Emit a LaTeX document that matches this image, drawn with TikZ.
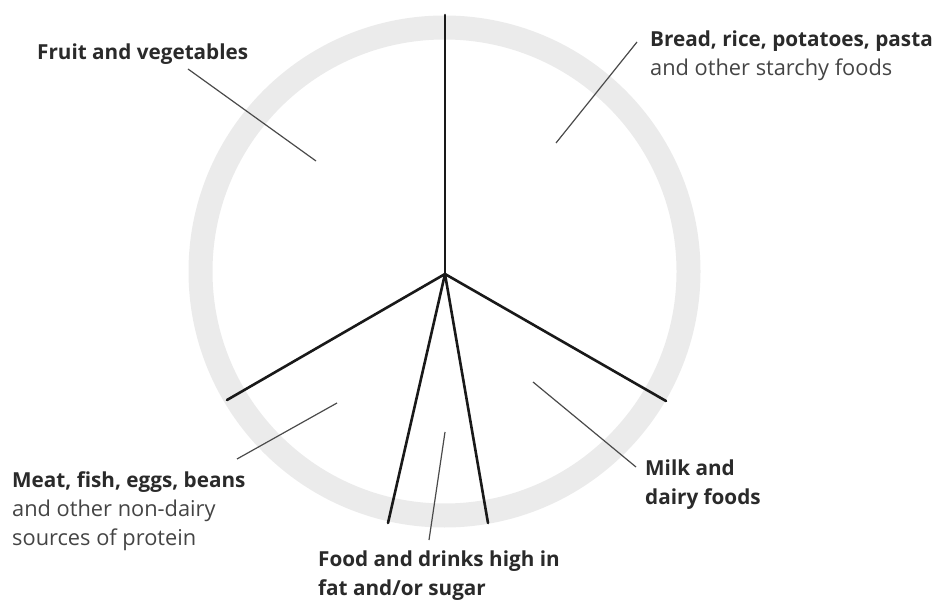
\documentclass[tikz,border=0pt]{standalone}
\usepackage{fontspec}
\setmainfont{Open Sans}
\definecolor{ringgray}{HTML}{EBEBEB}
\definecolor{txtdark}{HTML}{2A2A2A}
\definecolor{txtreg}{HTML}{444444}
\definecolor{leadgray}{HTML}{4A4A4A}
\tikzset{
  spoke/.style={line width=2.6pt, black!90, line cap=round},
  leader/.style={line width=1.2pt, leadgray},
  lbl/.style={anchor=base west, inner sep=0pt, align=left, text=txtdark,
    font=\fontsize{20.7}{29}\selectfont},
}
\newcommand{\reg}[1]{{\mdseries\fontsize{21.8}{29}\selectfont\color{txtreg}#1}}
\begin{document}
\begin{tikzpicture}[x=1pt,y=-1pt]
\useasboundingbox (0,0) rectangle (937,601);
% ring
\coordinate (rc) at (444.5,271.5);
\draw[ringgray, line width=24pt] (rc) circle[radius=244pt];
% spokes
\coordinate (c) at (445,274);
\coordinate (top) at (445,15);
\coordinate (sl) at (227,400);
\coordinate (sr) at (666,401);
\coordinate (sbl) at (388,523);
\coordinate (sbr) at (488,523);
\draw[spoke] (c) -- (top);
\draw[spoke] (c) -- (sl);
\draw[spoke] (c) -- (sr);
\draw[spoke] (c) -- (sbl);
\draw[spoke] (c) -- (sbr);
% labels (anchor = baseline of the last line)
\node[lbl] (fruit) at (37,60) {\bfseries Fruit and vegetables};
\node[lbl] (bread) at (650,76) {\bfseries Bread, rice, potatoes, pasta\\\reg{and other starchy foods}};
\node[lbl] (meat) at (12,545) {\bfseries Meat, fish, eggs, beans\\\reg{and other non-dairy}\\\reg{sources of protein}};
\node[lbl] (food) at (318,595) {\bfseries Food and drinks high in\\\bfseries fat and/or sugar};
\node[lbl] (milk) at (645,504) {\bfseries Milk and\\\bfseries dairy foods};
% leader lines
\coordinate (fA) at (188,69);  \coordinate (fB) at (316,161);
\coordinate (bA) at (637,42);  \coordinate (bB) at (556,143);
\coordinate (mA) at (237,459); \coordinate (mB) at (337,403);
\coordinate (dA) at (429,540); \coordinate (dB) at (445,432);
\coordinate (kA) at (636,467); \coordinate (kB) at (533,382);
\draw[leader] (fA) -- (fB);
\draw[leader] (bA) -- (bB);
\draw[leader] (mA) -- (mB);
\draw[leader] (dA) -- (dB);
\draw[leader] (kA) -- (kB);
\end{tikzpicture}
\end{document}
